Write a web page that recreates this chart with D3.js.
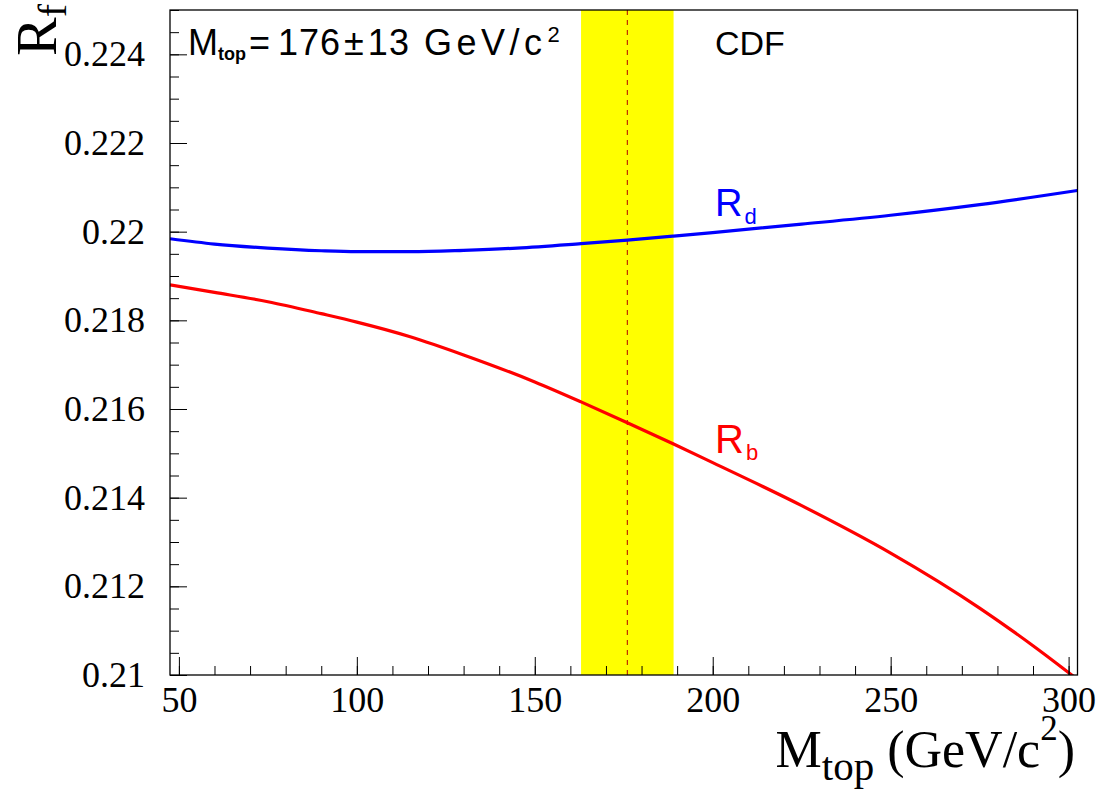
<!DOCTYPE html>
<html>
<head>
<meta charset="utf-8">
<script src="https://cdn.jsdelivr.net/npm/d3@7"></script>
<style>
  body { margin: 0; background: #fff; }
  svg { display: block; }
  .axis path { display: none; }
  .axis line { stroke: #000; }
  .axis text { font-family: 'Liberation Serif', 'Times New Roman', serif; fill: #000; }
  .lbl { font-family: 'Liberation Sans', Arial, sans-serif; }
</style>
</head>
<body>
<div id="chart"></div>
<script>
// data
var xTicks = [50, 100, 150, 200, 250, 300]
var yTicks = [0.21, 0.212, 0.214, 0.216, 0.218, 0.22, 0.222, 0.224]

var mtopCentral = 176
var mtopError = 13

var rdMass = [47.5, 60, 75, 90, 100, 115, 130, 145, 163, 176, 189, 200, 225, 250, 275, 302.5]
var rdValue = [0.21984, 0.21972, 0.21963, 0.21957, 0.21955, 0.21955, 0.21958, 0.21963, 0.21973, 0.21981, 0.21990, 0.21998, 0.22017, 0.22037, 0.22061, 0.22093]

var rbMass = [47.5, 60, 75, 90, 100, 115, 130, 150, 163, 176, 189, 200, 225, 250, 275, 290, 302.5]
var rbValue = [0.21880, 0.21863, 0.21842, 0.21815, 0.21796, 0.21763, 0.21722, 0.21661, 0.21616, 0.21569, 0.21521, 0.21479, 0.21382, 0.21275, 0.21151, 0.21066, 0.20990]

// layout
var margin = { top: 10, left: 170, right: 22.5, bottom: 116 }
var width = 1100 - margin.left - margin.right
var height = 791 - margin.top - margin.bottom

var svg = d3.select('#chart')
  .append('svg')
  .attr('width', 1100)
  .attr('height', 791)

var g = svg.append('g')
  .attr('transform', 'translate(' + margin.left + ',' + margin.top + ')')

var xPositionScale = d3.scaleLinear().domain([47.5, 302.5]).range([0, width])
var yPositionScale = d3.scaleLinear().domain([0.21, 0.225]).range([height, 0])

g.append('clipPath')
  .attr('id', 'plot-clip')
  .append('rect')
  .attr('width', width)
  .attr('height', height)

// yellow band for the top mass
g.append('rect')
  .attr('x', xPositionScale(mtopCentral - mtopError))
  .attr('y', 0)
  .attr('width', xPositionScale(mtopCentral + mtopError) - xPositionScale(mtopCentral - mtopError))
  .attr('height', height)
  .attr('fill', '#ffff00')

g.append('line')
  .attr('x1', xPositionScale(mtopCentral))
  .attr('x2', xPositionScale(mtopCentral))
  .attr('y1', 0)
  .attr('y2', height)
  .attr('stroke', '#b00000')
  .attr('stroke-width', 1)
  .attr('stroke-dasharray', '5,5')

// curves
var line = d3.line()
  .x(d => xPositionScale(d[0]))
  .y(d => yPositionScale(d[1]))
  .curve(d3.curveMonotoneX)

g.append('path')
  .datum(d3.zip(rdMass, rdValue))
  .attr('d', line)
  .attr('fill', 'none')
  .attr('stroke', '#0000ff')
  .attr('stroke-width', 3.2)
  .attr('clip-path', 'url(#plot-clip)')

g.append('path')
  .datum(d3.zip(rbMass, rbValue))
  .attr('d', line)
  .attr('fill', 'none')
  .attr('stroke', '#ff0000')
  .attr('stroke-width', 3.2)
  .attr('clip-path', 'url(#plot-clip)')

// axes: minor ticks first, then major with labels
g.append('g')
  .attr('class', 'axis')
  .attr('transform', 'translate(0,' + height + ')')
  .call(d3.axisBottom(xPositionScale).tickValues(xPositionScale.ticks(25)).tickSize(-9).tickFormat(''))

g.append('g')
  .attr('class', 'axis x-axis')
  .attr('transform', 'translate(0,' + height + ')')
  .call(d3.axisBottom(xPositionScale).tickValues(xTicks).tickSize(-18).tickPadding(11))
  .selectAll('text')
  .attr('font-size', 36)

g.append('g')
  .attr('class', 'axis')
  .call(d3.axisLeft(yPositionScale).tickValues(yPositionScale.ticks(30)).tickSize(-9).tickFormat(''))

g.append('g')
  .attr('class', 'axis y-axis')
  .call(d3.axisLeft(yPositionScale).tickValues(yTicks).tickSize(-17).tickPadding(25).tickFormat(d => +d.toFixed(3)))
  .selectAll('text')
  .attr('font-size', 36)

// frame
g.append('rect')
  .attr('x', 0)
  .attr('y', 0)
  .attr('width', width)
  .attr('height', height)
  .attr('fill', 'none')
  .attr('stroke', '#000')
  .attr('stroke-width', 1.3)

// axis titles
var xTitle = svg.append('text')
  .attr('x', 1075)
  .attr('y', 767)
  .attr('text-anchor', 'end')
  .attr('font-family', 'Liberation Serif, Times New Roman, serif')
  .attr('font-size', 52)
xTitle.append('tspan').text('M')
xTitle.append('tspan').attr('font-size', 41).attr('dy', 13).text('top')
xTitle.append('tspan').attr('dy', -13).text(' (GeV/c')
xTitle.append('tspan').attr('font-size', 35).attr('dy', -27).text('2')
xTitle.append('tspan').attr('dy', 27).text(')')

var yTitle = svg.append('text')
  .attr('transform', 'translate(56,4) rotate(-90)')
  .attr('text-anchor', 'end')
  .attr('font-family', 'Liberation Serif, Times New Roman, serif')
  .attr('font-size', 58)
yTitle.append('tspan').text('R')
yTitle.append('tspan').attr('font-size', 40).attr('dy', 10).text('f')

// labels inside the plot
var mLabel = svg.append('text')
  .attr('class', 'lbl')
  .attr('x', 188)
  .attr('y', 55)
  .attr('font-size', 36)
mLabel.append('tspan').text('M')
mLabel.append('tspan').attr('font-size', 18).attr('font-weight', 'bold').attr('dy', 5).text('top')
mLabel.append('tspan').attr('dy', -5).attr('dx', 3).text('=')
mLabel.append('tspan').attr('dx', 8).attr('letter-spacing', 1).text(mtopCentral)
mLabel.append('tspan').attr('dx', 3).text('\u00b1')
mLabel.append('tspan').attr('dx', 4).attr('letter-spacing', 1).text(mtopError)
mLabel.append('tspan').attr('dx', 14).attr('letter-spacing', 4.5).text('GeV/c')
mLabel.append('tspan').attr('font-size', 22).attr('dx', 1).attr('dy', -13).text('2')

svg.append('text')
  .attr('class', 'lbl')
  .attr('x', 715)
  .attr('y', 55)
  .attr('font-size', 34)
  .text('CDF')

var rdLabel = svg.append('text')
  .attr('class', 'lbl')
  .attr('x', 715)
  .attr('y', 216)
  .attr('font-size', 38)
  .attr('fill', '#0000ff')
rdLabel.append('tspan').text('R')
rdLabel.append('tspan').attr('font-size', 22).attr('dx', 2).attr('dy', 8).text('d')

var rbLabel = svg.append('text')
  .attr('class', 'lbl')
  .attr('x', 715)
  .attr('y', 453)
  .attr('font-size', 40)
  .attr('fill', '#ff0000')
rbLabel.append('tspan').text('R')
rbLabel.append('tspan').attr('font-size', 22).attr('dx', 2).attr('dy', 7).text('b')
</script>
</body>
</html>
